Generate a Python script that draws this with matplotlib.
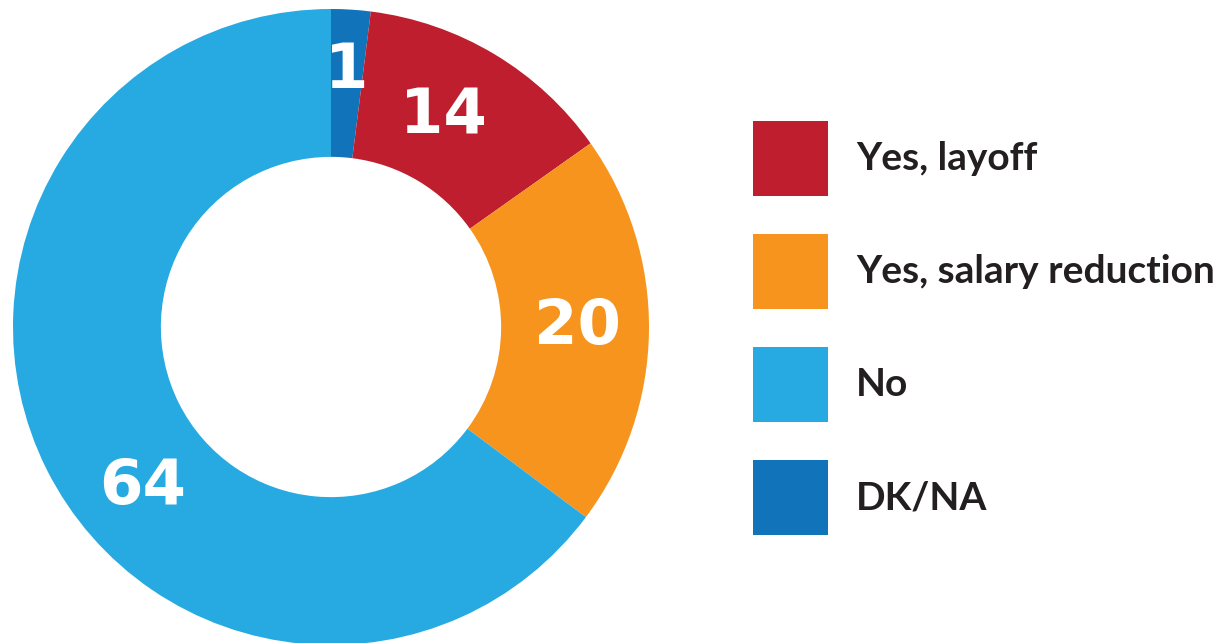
import matplotlib
matplotlib.use('Agg')
import matplotlib.pyplot as plt
import numpy as np

plt.rcParams['font.family'] = ['Lato', 'DejaVu Sans']

# --- データ ---
categories = ['DK/NA', 'Yes, layoff', 'Yes, salary reduction', 'No']
shares = [2.0, 13.2, 20.0, 64.8]      # 扇形の大きさ
labels = ['1', '14', '20', '64']       # 表示されている数値
colors = ['#1174BB', '#BE1E2D', '#F7941D', '#27AAE1']
legend_order = ['Yes, layoff', 'Yes, salary reduction', 'No', 'DK/NA']

# ラベルの位置（上から時計回りの角度, 半径）
label_angle = [3.4, 28.0, 90.0, 229.6]
label_radius = [0.806, 0.75, 0.775, 0.777]

W, H = 1221, 643
fig = plt.figure(figsize=(W / 100, H / 100), dpi=100)

# ドーナツの中心 (331, 327) px, 半径 318 px
cx, cy, R = 331, 327, 318
ax = fig.add_axes([(cx - R) / W, (H - cy - R) / H, 2 * R / W, 2 * R / H])
wedges, _ = ax.pie(shares, colors=colors, startangle=90, counterclock=False,
                   radius=1.0, wedgeprops=dict(width=0.465, linewidth=0))
ax.set_xlim(-1, 1)
ax.set_ylim(-1, 1)
ax.axis('off')

for lab, a, r in zip(labels, label_angle, label_radius):
    t = np.deg2rad(90 - a)
    ax.text(r * np.cos(t), r * np.sin(t), lab, ha='center', va='center',
            color='white', fontsize=45, fontweight='bold', family='DejaVu Sans')

handles = [wedges[categories.index(c)] for c in legend_order]
fig.legend(handles, legend_order, loc='upper left',
           bbox_to_anchor=(753 / W, 1 - 121 / H), frameon=False,
           prop=dict(family='Lato', weight='bold', size=28),
           handlelength=1.93, handleheight=2.59, labelspacing=0.977,
           handletextpad=0.72, borderpad=0, borderaxespad=0,
           labelcolor='#231F20')

fig.savefig('out.png', dpi=100)
